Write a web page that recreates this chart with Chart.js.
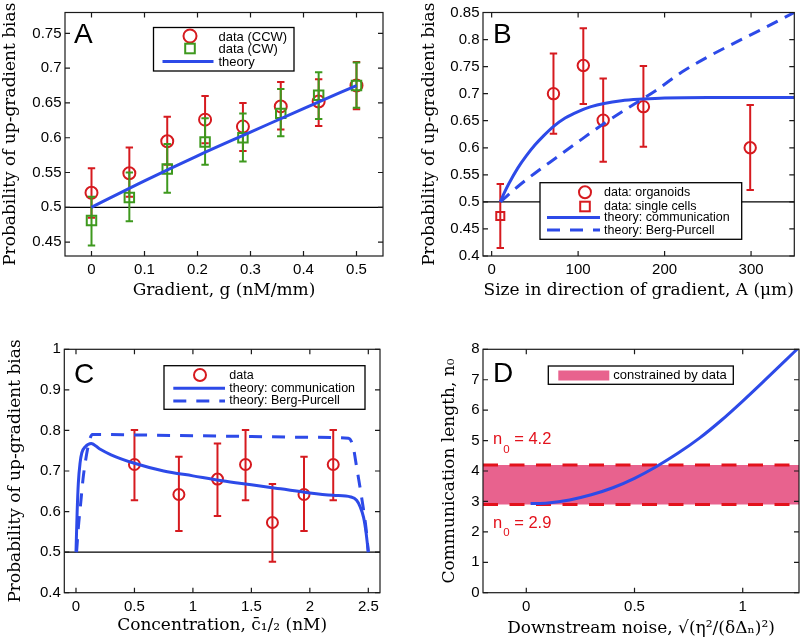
<!DOCTYPE html>
<html><head><meta charset="utf-8">
<script src="https://cdn.jsdelivr.net/npm/chart.js@4/dist/chart.umd.min.js"></script>
<style>
html,body{margin:0;padding:0;background:#fff;}
#wrap{position:relative;width:802px;height:640px;background:#fff;}
.pnl{position:absolute;width:401px;height:320px;}
canvas{display:block;}
</style></head><body>
<div id="wrap">
<div class="pnl" style="left:0;top:0"><canvas id="cA" width="401" height="320"></canvas></div>
<div class="pnl" style="left:401px;top:0"><canvas id="cB" width="401" height="320"></canvas></div>
<div class="pnl" style="left:0;top:320px"><canvas id="cC" width="401" height="320"></canvas></div>
<div class="pnl" style="left:401px;top:320px"><canvas id="cD" width="401" height="320"></canvas></div>
</div>
<script>
// ---------------- DATA ----------------
// Panel A
const gradientA   = [0, 0.0714, 0.1429, 0.2143, 0.2857, 0.3571, 0.4286, 0.5];
const ccwBias     = [0.521, 0.549, 0.595, 0.626, 0.616, 0.645, 0.652, 0.675];
const ccwLow      = [0.485, 0.515, 0.561, 0.592, 0.581, 0.612, 0.617, 0.641];
const ccwHigh     = [0.556, 0.586, 0.630, 0.660, 0.650, 0.680, 0.684, 0.709];
const cwBias      = [0.481, 0.514, 0.555, 0.594, 0.600, 0.635, 0.661, 0.675];
const cwLow       = [0.445, 0.480, 0.521, 0.561, 0.566, 0.602, 0.627, 0.643];
const cwHigh      = [0.515, 0.550, 0.591, 0.628, 0.635, 0.670, 0.694, 0.708];
const theoryAx    = [0, 0.1, 0.2, 0.3, 0.4, 0.5];
const theoryAy    = [0.5, 0.538, 0.574, 0.608, 0.642, 0.675];
const xTicksA     = [0, 0.1, 0.2, 0.3, 0.4, 0.5];
const yTicksA     = [0.45, 0.5, 0.55, 0.6, 0.65, 0.7, 0.75];

// Panel B
const sizeOrganoid = [71.5, 106, 129, 175.5, 299];
const biasOrganoid = [0.700, 0.752, 0.651, 0.676, 0.600];
const lowOrganoid  = [0.626, 0.681, 0.574, 0.602, 0.522];
const highOrganoid = [0.774, 0.821, 0.728, 0.751, 0.679];
const sizeCell     = [10];
const biasCell     = [0.474];
const lowCell      = [0.415];
const highCell     = [0.533];
const commBx = [10, 15, 20, 30, 40, 50, 60, 72, 85, 100, 115, 130, 150, 175, 200, 250, 300, 350];
const commBy = [0.5, 0.518, 0.534, 0.562, 0.585, 0.605, 0.622, 0.640, 0.655, 0.667, 0.676, 0.682, 0.687, 0.690, 0.692, 0.693, 0.693, 0.693];
const bpBx   = [10, 30, 50, 75, 100, 130, 160, 190, 220, 250, 280, 310, 350];
const bpBy   = [0.5, 0.528, 0.553, 0.582, 0.611, 0.645, 0.676, 0.706, 0.740, 0.768, 0.793, 0.817, 0.850];
const xTicksB = [0, 100, 200, 300];
const yTicksB = [0.4, 0.45, 0.5, 0.55, 0.6, 0.65, 0.7, 0.75, 0.8, 0.85];

// Panel C
const concC  = [0.50, 0.88, 1.21, 1.45, 1.68, 1.95, 2.20];
const biasC  = [0.716, 0.642, 0.680, 0.716, 0.573, 0.642, 0.716];
const lowC   = [0.628, 0.552, 0.589, 0.628, 0.476, 0.552, 0.628];
const highC  = [0.801, 0.735, 0.768, 0.801, 0.668, 0.735, 0.801];
const commCx = [0, 0.01, 0.02, 0.035, 0.05, 0.08, 0.13, 0.2, 0.3, 0.5, 0.75, 1.0, 1.25, 1.5, 1.75, 2.0, 2.2, 2.35, 2.4, 2.43, 2.46, 2.48, 2.5];
const commCy = [0.5, 0.6, 0.67, 0.72, 0.745, 0.76, 0.768, 0.755, 0.74, 0.719, 0.70, 0.688, 0.676, 0.666, 0.656, 0.646, 0.640, 0.636, 0.628, 0.612, 0.585, 0.55, 0.5];
const bpCx   = [0.005, 0.02, 0.04, 0.06, 0.09, 0.12, 0.14, 0.5, 1.0, 1.5, 2.0, 2.33, 2.37, 2.4, 2.44, 2.48, 2.5];
const bpCy   = [0.5, 0.56, 0.62, 0.68, 0.74, 0.78, 0.79, 0.789, 0.787, 0.785, 0.783, 0.781, 0.76, 0.71, 0.64, 0.56, 0.5];
const xTicksC = [0, 0.5, 1, 1.5, 2, 2.5];
const yTicksC = [0.4, 0.5, 0.6, 0.7, 0.8, 0.9, 1];

// Panel D
const noiseD  = [0.02, 0.1, 0.2, 0.3, 0.4, 0.5, 0.6, 0.7, 0.8, 0.9, 1.0, 1.1, 1.2, 1.255];
const lengthD = [2.93, 2.95, 3.05, 3.22, 3.45, 3.76, 4.14, 4.58, 5.08, 5.66, 6.30, 6.97, 7.65, 8.03];
const bandLowD  = 2.9;
const bandHighD = 4.2;
const xTicksD = [0, 0.5, 1];
const yTicksD = [0, 1, 2, 3, 4, 5, 6, 7, 8];

const chance = 0.5;

// ---------------- STYLE ----------------
const RED = '#d61a1f', GREEN = '#3e991e', BLUE = '#2d4ae8', PINK = '#e8628e', DRED = '#e3121c';
const TICKFONT = {family: "'Liberation Sans', Arial, sans-serif", size: 15};
const TITLEFONT = {family: "'DejaVu Serif', serif", size: 17};

const pts = (xs, ys) => xs.map((x, i) => ({x: x, y: ys[i]}));

function lineDS(label, xs, ys, color, dash, width) {
  return {label, data: pts(xs, ys), showLine: true, borderColor: color, borderWidth: width || 3,
    borderDash: dash || [], pointRadius: 0, pointHoverRadius: 0, fill: false, tension: 0.35,
    cubicInterpolationMode: 'monotone', borderCapStyle: 'butt'};
}
function markDS(label, xs, ys, lo, hi, color, style, r) {
  return {label, data: pts(xs, ys), showLine: false, borderColor: color, backgroundColor: 'rgba(0,0,0,0)',
    pointStyle: style, pointRadius: r, pointHoverRadius: r, pointBorderWidth: 2, pointBorderColor: color,
    pointBackgroundColor: 'rgba(0,0,0,0)', errLow: lo, errHigh: hi};
}
function refDS(level, x0, x1) {
  return {label: 'chance', data: [{x: x0, y: level}, {x: x1, y: level}], showLine: true,
    borderColor: '#000', borderWidth: 1.3, pointRadius: 0, pointHoverRadius: 0, fill: false};
}

const errorBars = {
  id: 'errorBars',
  beforeDatasetDraw(chart, args) {
    const ds = chart.data.datasets[args.index];
    if (!ds.errLow) return;
    const {ctx, chartArea: a} = chart, xs = chart.scales.x, ys = chart.scales.y;
    ctx.save();
    ctx.beginPath(); ctx.rect(a.left, a.top, a.width, a.height); ctx.clip();
    ctx.strokeStyle = ds.borderColor; ctx.lineWidth = 2;
    const cap = 3.7;
    ds.data.forEach((p, i) => {
      const x = xs.getPixelForValue(p.x);
      const lo = ys.getPixelForValue(ds.errLow[i]), hi = ys.getPixelForValue(ds.errHigh[i]);
      ctx.beginPath();
      ctx.moveTo(x, lo); ctx.lineTo(x, hi);
      ctx.moveTo(x - cap, lo); ctx.lineTo(x + cap, lo);
      ctx.moveTo(x - cap, hi); ctx.lineTo(x + cap, hi);
      ctx.stroke();
    });
    ctx.restore();
  }
};

function drawLegend(ctx, L) {
  ctx.save();
  ctx.fillStyle = '#fff'; ctx.fillRect(L.x, L.y, L.w, L.h);
  ctx.strokeStyle = '#000'; ctx.lineWidth = 1.3; ctx.strokeRect(L.x, L.y, L.w, L.h);
  L.items.forEach(it => {
    ctx.save();
    ctx.strokeStyle = it.color; ctx.fillStyle = it.color; ctx.lineWidth = it.lw || 2;
    if (it.kind === 'circle') { ctx.beginPath(); ctx.arc(it.mx, it.my, it.r, 0, 2 * Math.PI); ctx.stroke(); }
    else if (it.kind === 'square') { ctx.strokeRect(it.mx - it.r, it.my - it.r, 2 * it.r, 2 * it.r); }
    else if (it.kind === 'line') { ctx.setLineDash(it.dash || []); ctx.beginPath(); ctx.moveTo(it.x0, it.my); ctx.lineTo(it.x1, it.my); ctx.stroke(); }
    else if (it.kind === 'patch') { ctx.fillRect(it.x0, it.my - it.hh, it.x1 - it.x0, 2 * it.hh); }
    ctx.restore();
    ctx.fillStyle = '#000'; ctx.font = L.font; ctx.textBaseline = 'middle'; ctx.textAlign = 'left';
    ctx.fillText(it.text, L.tx, it.ty);
  });
  ctx.restore();
}

function deco(cfg) {
  return {
    id: 'deco',
    afterDraw(chart) {
      const {ctx, chartArea: a} = chart, xs = chart.scales.x, ys = chart.scales.y;
      ctx.save();
      ctx.strokeStyle = '#1a1a1a'; ctx.lineWidth = 1.2;
      ctx.strokeRect(a.left, a.top, a.width, a.height);
      const T = 5;
      ctx.beginPath();
      xs.ticks.forEach(t => {
        const px = xs.getPixelForValue(t.value);
        ctx.moveTo(px, a.bottom); ctx.lineTo(px, a.bottom - T);
        ctx.moveTo(px, a.top); ctx.lineTo(px, a.top + T);
      });
      ys.ticks.forEach(t => {
        const py = ys.getPixelForValue(t.value);
        ctx.moveTo(a.left, py); ctx.lineTo(a.left + T, py);
        ctx.moveTo(a.right, py); ctx.lineTo(a.right - T, py);
      });
      ctx.stroke();
      if (cfg.legend) drawLegend(ctx, cfg.legend);
      ctx.fillStyle = '#000'; ctx.font = "28px 'Liberation Sans', Arial, sans-serif";
      ctx.textBaseline = 'alphabetic'; ctx.textAlign = 'left';
      ctx.fillText(cfg.label, cfg.lx, cfg.ly);
      if (cfg.extra) cfg.extra(ctx);
      ctx.restore();
    }
  };
}

function makePanel(id, o) {
  const fmt = v => String(v);
  return new Chart(document.getElementById(id), {
    type: 'scatter',
    data: {datasets: o.datasets},
    options: {
      responsive: false, animation: false, devicePixelRatio: 1,
      events: [],
      layout: {padding: o.pad},
      plugins: {legend: {display: false}, tooltip: {enabled: false}, filler: {drawTime: 'beforeDatasetsDraw'}},
      scales: {
        x: {type: 'linear', min: o.xMin, max: o.xMax,
          afterBuildTicks: s => { s.ticks = o.xTicks.map(v => ({value: v})); },
          afterFit: s => { s.height = o.xH; },
          grid: {display: false, drawTicks: false}, border: {display: false},
          ticks: {font: TICKFONT, color: '#000', padding: 5, maxRotation: 0, autoSkip: false, callback: fmt},
          title: {display: true, text: o.xTitle, font: TITLEFONT, color: '#000', padding: {top: 0, bottom: o.xTitlePad}}},
        y: {type: 'linear', min: o.yMin, max: o.yMax,
          afterBuildTicks: s => { s.ticks = o.yTicks.map(v => ({value: v})); },
          afterFit: s => { s.width = o.yW; },
          grid: {display: false, drawTicks: false}, border: {display: false},
          ticks: {font: TICKFONT, color: '#000', padding: 3.5, autoSkip: false, callback: fmt},
          title: {display: true, text: o.yTitle, font: TITLEFONT, color: '#000', padding: {top: o.yTitlePad, bottom: 0}}}
      }
    },
    plugins: [errorBars, deco(o.deco)]
  });
}

// ---------------- PANEL A ----------------
const labA = ['data (CCW)', 'data (CW)', 'theory'];
makePanel('cA', {
  datasets: [
    lineDS(labA[2], theoryAx, theoryAy, BLUE),
    markDS(labA[1], gradientA, cwBias, cwLow, cwHigh, GREEN, 'rect', 6.7),
    markDS(labA[0], gradientA, ccwBias, ccwLow, ccwHigh, RED, 'circle', 6),
    refDS(chance, -0.05, 0.55)
  ],
  xMin: -0.05, xMax: 0.55, yMin: 0.43, yMax: 0.78, xTicks: xTicksA, yTicks: yTicksA,
  pad: {left: 0, top: 12, right: 18, bottom: 0}, xH: 64, yW: 65, xTitlePad: 19.5, yTitlePad: 0,
  xTitle: 'Gradient, g (nM/mm)', yTitle: 'Probability of up-gradient bias',
  deco: {label: 'A', lx: 74, ly: 43,
    legend: {x: 153.5, y: 27.5, w: 140.5, h: 43.5, tx: 218.5, font: "13px 'Liberation Sans', Arial, sans-serif",
      items: [
        {kind: 'circle', color: RED, mx: 190, my: 36, r: 6.5, text: labA[0], ty: 37},
        {kind: 'square', color: GREEN, mx: 190, my: 48.5, r: 4.8, text: labA[1], ty: 49.5},
        {kind: 'line', color: BLUE, x0: 162.5, x1: 213.5, my: 61.5, lw: 3, text: labA[2], ty: 62}
      ]}}
});

// ---------------- PANEL B ----------------
const labB = ['data: organoids', 'data: single cells', 'theory: communication', 'theory: Berg-Purcell'];
makePanel('cB', {
  datasets: [
    lineDS(labB[2], commBx, commBy, BLUE),
    lineDS(labB[3], bpBx, bpBy, BLUE, [12, 8]),
    markDS(labB[0], sizeOrganoid, biasOrganoid, lowOrganoid, highOrganoid, RED, 'circle', 5.7),
    markDS(labB[1], sizeCell, biasCell, lowCell, highCell, RED, 'rect', 5.7),
    refDS(chance, -10, 350)
  ],
  xMin: -10, xMax: 350, yMin: 0.4, yMax: 0.85, xTicks: xTicksB, yTicks: yTicksB,
  pad: {left: 0, top: 12, right: 3, bottom: 0}, xH: 64, yW: 82, xTitlePad: 19.5, yTitlePad: 18,
  xTitle: 'Size in direction of gradient, A (μm)', yTitle: 'Probability of up-gradient bias',
  deco: {label: 'B', lx: 92, ly: 43,
    legend: {x: 139, y: 182.7, w: 201.7, h: 56.6, tx: 203, font: "12.5px 'Liberation Sans', Arial, sans-serif",
      items: [
        {kind: 'circle', color: RED, mx: 184, my: 192.3, r: 6, text: labB[0], ty: 192.8},
        {kind: 'square', color: RED, mx: 184, my: 206.5, r: 4.8, text: labB[1], ty: 206.5},
        {kind: 'line', color: BLUE, x0: 146, x1: 199, my: 217.5, lw: 3, text: labB[2], ty: 218},
        {kind: 'line', color: BLUE, x0: 146, x1: 199, my: 230, lw: 3, dash: [13, 10], text: labB[3], ty: 230.3}
      ]}}
});

// ---------------- PANEL C ----------------
const labC = ['data', 'theory: communication', 'theory: Berg-Purcell'];
makePanel('cC', {
  datasets: [
    lineDS(labC[1], commCx, commCy, BLUE),
    lineDS(labC[2], bpCx, bpCy, BLUE, [13, 10]),
    markDS(labC[0], concC, biasC, lowC, highC, RED, 'circle', 5.5),
    refDS(chance, -0.1, 2.6)
  ],
  xMin: -0.1, xMax: 2.6, yMin: 0.4, yMax: 1, xTicks: xTicksC, yTicks: yTicksC,
  pad: {left: 0, top: 29.3, right: 21, bottom: 0}, xH: 47.3, yW: 64.3, xTitlePad: 4, yTitlePad: 5,
  xTitle: 'Concentration, c̄₁/₂ (nM)', yTitle: 'Probability of up-gradient bias',
  deco: {label: 'C', lx: 74, ly: 63,
    legend: {x: 164, y: 45.7, w: 201, h: 43.6, tx: 229.3, font: "12.5px 'Liberation Sans', Arial, sans-serif",
      items: [
        {kind: 'circle', color: RED, mx: 200, my: 55, r: 6, text: labC[0], ty: 55.5},
        {kind: 'line', color: BLUE, x0: 173.3, x1: 225, my: 68.3, lw: 3, text: labC[1], ty: 68.5},
        {kind: 'line', color: BLUE, x0: 173.3, x1: 225, my: 81, lw: 3, dash: [13, 10], text: labC[2], ty: 81}
      ]}}
});

// ---------------- PANEL D ----------------
const labD = ['constrained by data'];
function nLabel(ctx, x, y, val) {
  ctx.fillStyle = DRED; ctx.textBaseline = 'alphabetic'; ctx.textAlign = 'left';
  ctx.font = "16.5px 'Liberation Sans', Arial, sans-serif";
  ctx.fillText('n', x, y);
  const w = ctx.measureText('n').width;
  ctx.font = "11.5px 'Liberation Sans', Arial, sans-serif";
  ctx.fillText('0', x + w + 1, y + 8.5);
  const w2 = ctx.measureText('0').width;
  ctx.font = "16.5px 'Liberation Sans', Arial, sans-serif";
  ctx.fillText(' = ' + val, x + w + 1 + w2, y);
}
makePanel('cD', {
  datasets: [
    lineDS('theory', noiseD, lengthD, BLUE),
    {label: 'upper', data: [{x: -0.2, y: bandHighD}, {x: 1.26, y: bandHighD}], showLine: true, borderColor: DRED,
      borderWidth: 3, borderDash: [15, 11.5], pointRadius: 0, fill: '+1', backgroundColor: PINK},
    {label: 'lower', data: [{x: -0.2, y: bandLowD}, {x: 1.26, y: bandLowD}], showLine: true, borderColor: DRED,
      borderWidth: 3, borderDash: [15, 11.5], pointRadius: 0, fill: false}
  ],
  xMin: -0.2, xMax: 1.26, yMin: 0, yMax: 8, xTicks: xTicksD, yTicks: yTicksD,
  pad: {left: 0, top: 29.3, right: 3, bottom: 0}, xH: 47.3, yW: 82, xTitlePad: 1, yTitlePad: 38,
  xTitle: 'Downstream noise, √(η²/(δΔₙ)²)', yTitle: 'Communication length, n₀',
  deco: {label: 'D', lx: 92, ly: 62,
    legend: {x: 147.3, y: 46, w: 185, h: 18.3, tx: 212.3, font: "13px 'Liberation Sans', Arial, sans-serif",
      items: [
        {kind: 'patch', color: PINK, x0: 157.3, x1: 208.3, my: 55.5, hh: 5, text: labD[0], ty: 55.5}
      ]},
    extra: ctx => { nLabel(ctx, 92, 124, bandHighD.toFixed(1)); nLabel(ctx, 92, 207.5, bandLowD.toFixed(1)); }
  }
});
</script>
</body></html>
